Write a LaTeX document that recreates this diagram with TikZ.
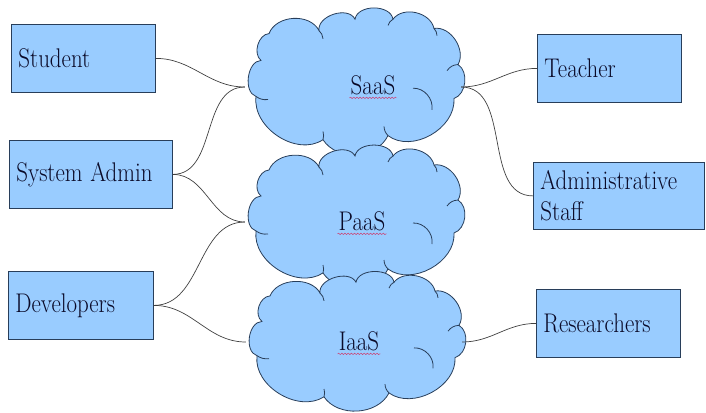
\documentclass[tikz,border=0pt]{standalone}
\usetikzlibrary{decorations.pathmorphing}
\definecolor{cfill}{RGB}{153,204,255}
\definecolor{cline}{RGB}{40,62,90}
\definecolor{ctext}{RGB}{10,10,40}
\definecolor{spell}{RGB}{205,60,110}
\newcommand{\narrowtext}[1]{\scalebox{0.85}[1]{#1}}
\tikzset{
  boxnode/.style={draw=cline, line width=0.8pt, fill=cfill, anchor=north west,
    minimum height=68pt, align=left, inner xsep=7pt, inner ysep=0pt,
    font=\fontsize{27}{31}\selectfont, text=ctext},
  hook/.style={minimum width=216pt, minimum height=100pt, inner sep=0pt, draw=none},
  cloudtext/.style={font=\fontsize{27}{31}\selectfont, text=ctext, inner sep=1pt},
  curl/.style={draw=cline, line width=0.8pt},
  link/.style={draw=black!75, line width=0.7pt},
  squiggle/.style={draw=spell, line width=0.5pt,
    decorate, decoration={snake, segment length=3.2pt, amplitude=0.7pt}},
  puffcloud/.pic={
    \filldraw[draw=cline, fill=cfill, line width=0.8pt]
      (-97,15) to[bend left=80] (-92,-20)
      to[bend left=70] (-84,-46)
      to[bend left=65] (-34,-49)
      to[bend left=80] (2,-60)
      to[bend left=80] (40,-60)
      to[bend left=65] (81,-51)
      to[bend left=65] (105,-16)
      to[bend left=65] (101,17)
      to[bend left=65] (35,53)
      to[bend left=60] (-30,57)
      to[bend left=65] (-97,15) -- cycle;
    \draw[curl] (-97,15) to[bend right=20] (-85,18);
    \draw[curl] (-34,-49) to[bend left=20] (-30,-41);
    \draw[curl] (40,-60) to[bend right=20] (35,-54);
    \draw[curl] (81,-51) to[bend left=20] (84,-44);
    \draw[curl] (105,-16) to[bend right=25] (94,-10);
    \draw[curl] (60,7) to[bend left=50] (79,28);
    \draw[curl] (35,53) to[bend left=20] (31,44);
    \draw[curl] (-30,57) to[bend right=15] (-30,49);
  }
}
\begin{document}
\begin{tikzpicture}[x=1pt,y=-1pt]
\useasboundingbox (0,0) rectangle (706,412);
% clouds
\pic[yscale=1.03] at (353,81) {puffcloud};
\pic at (353,216) {puffcloud};
\pic[yscale=0.98] at (354,341) {puffcloud};
\node[hook] (saas) at (353,87) {};
\node[hook] (paas) at (353,222) {};
\node[hook] (iaas) at (354,342) {};
\node[cloudtext] (saasT) at (373,85) {\narrowtext{SaaS}};
\node[cloudtext] (paasT) at (362,221) {\narrowtext{PaaS}};
\node[cloudtext] (iaasT) at (359,341) {\narrowtext{IaaS}};
\draw[squiggle] ([yshift=-2pt]saasT.south west) -- ([yshift=-2pt]saasT.south east);
\draw[squiggle] ([yshift=-2pt]paasT.south west) -- ([yshift=-2pt]paasT.south east);
\draw[squiggle] ([yshift=-2pt]iaasT.south west) -- ([yshift=-2pt]iaasT.south east);
% boxes
\node[boxnode, text width=130pt] (student) at (11,24) {\narrowtext{Student}};
\node[boxnode, text width=149pt] (sysadmin) at (9,140) {\narrowtext{System Admin}};
\node[boxnode, text width=131pt] (dev) at (8,271) {\narrowtext{Developers}};
\node[boxnode, text width=130pt] (teacher) at (537,34) {\narrowtext{Teacher}};
\node[boxnode, text width=157pt, minimum height=67pt] (staff) at (533,162) {\narrowtext{Administrative}\\\narrowtext{Staff}};
\node[boxnode, text width=130pt] (res) at (536,289) {\narrowtext{Researchers}};
% connectors
\draw[link] (student.east) to[out=0,in=180] (saas.west);
\draw[link] (sysadmin.east) to[out=0,in=180] (saas.west);
\draw[link] (sysadmin.east) to[out=0,in=180] (paas.west);
\draw[link] (dev.east) to[out=0,in=180] (paas.west);
\draw[link] (dev.east) to[out=0,in=180] (iaas.west);
\draw[link] (saas.east) to[out=0,in=180] (teacher.west);
\draw[link] (saas.east) to[out=0,in=180] (staff.west);
\draw[link] (iaas.east) to[out=0,in=180] (res.west);
\end{tikzpicture}
\end{document}
